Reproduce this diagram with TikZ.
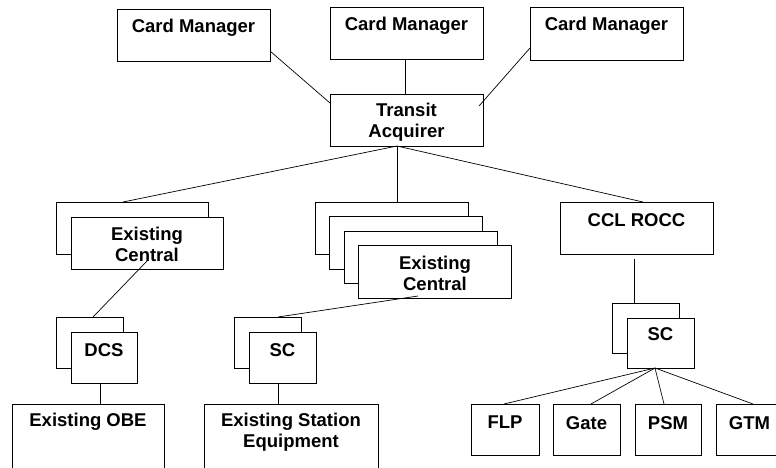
\documentclass[tikz,border=0pt]{standalone}
\usepackage{fontspec}
\setmainfont{Liberation Sans}
\usetikzlibrary{fit,calc}
\tikzset{
  box/.style={draw=black, fill=white, line width=0.8pt, inner sep=0pt, outer sep=0pt},
  lbl/.style={anchor=north, inner sep=0pt, align=center, font=\fontsize{18.5}{21}\selectfont\bfseries},
  conn/.style={draw=black, line width=0.7pt}
}
\begin{document}
\begin{tikzpicture}[x=1pt,y=-1pt]
\useasboundingbox (0,0) rectangle (776,467);
\clip (0,0) rectangle (776,467);
% top level
\node[box, fit={(117,9) (270,61)}] (cm1) {};
\node[box, fit={(330,7) (483,59)}] (cm2) {};
\node[box, fit={(530,7) (683,60)}] (cm3) {};
\node[box, fit={(330,94) (483,146)}] (ta) {};
% existing central left
\node[box, fit={(56,202) (208,254)}] (ecLb) {};
\node[box, fit={(71,217) (223,269)}] (ecLf) {};
% existing central middle stack
\node[box, fit={(315,202) (468,254.5)}] (ecM1) {};
\node[box, fit={(329.5,216.5) (482.5,269)}] (ecM2) {};
\node[box, fit={(344,231) (497,283.5)}] (ecM3) {};
\node[box, fit={(358.5,245.5) (511.5,298)}] (ecM4) {};
% ccl rocc
\node[box, fit={(560,202) (713,254)}] (ccl) {};
% DCS
\node[box, fit={(56,317) (123,368)}] (dcsb) {};
\node[box, fit={(71,332) (137,383)}] (dcsf) {};
% SC middle
\node[box, fit={(234,317) (301,368)}] (scMb) {};
\node[box, fit={(249,332) (316,383)}] (scMf) {};
% SC right
\node[box, fit={(612,303) (679,353)}] (scRb) {};
\node[box, fit={(627,318) (694,368)}] (scRf) {};
% bottom row
\node[box, fit={(12,404) (164,490)}] (obe) {};
\node[box, fit={(204,404) (378,490)}] (ese) {};
\node[box, fit={(471,404) (539,455)}] (flp) {};
\node[box, fit={(553,404) (620,455)}] (gate) {};
\node[box, fit={(635,404) (701,455)}] (psm) {};
\node[box, fit={(716,404) (783,455)}] (gtm) {};
% labels
\node[lbl] (cm1t) at ([yshift=-10pt]cm1.north) {Card Manager};
\node[lbl] (cm2t) at ([yshift=-10pt]cm2.north) {Card Manager};
\node[lbl] (cm3t) at ([yshift=-10pt]cm3.north) {Card Manager};
\node[lbl] (tat) at ([yshift=-9pt]ta.north) {Transit\\Acquirer};
\node[lbl] (ecLt) at ([yshift=-10pt]ecLf.north) {Existing\\Central};
\node[lbl] (ecMt) at ([yshift=-10pt]ecM4.north) {Existing\\Central};
\node[lbl] (cclt) at ([yshift=-11pt]ccl.north) {CCL ROCC};
\node[lbl] (dcst) at ([yshift=-11pt]dcsf.north) {DCS};
\node[lbl] (scMt) at ([yshift=-11pt]scMf.north) {SC};
\node[lbl] (scRt) at ([yshift=-9pt]scRf.north) {SC};
\node[lbl] (obet) at ([yshift=-9pt]obe.north) {Existing OBE};
\node[lbl] (eset) at ([yshift=-9pt]ese.north) {Existing Station\\Equipment};
\node[lbl] (flpt) at ([yshift=-12pt]flp.north) {FLP};
\node[lbl] (gatet) at ([yshift=-12pt]gate.north) {Gate};
\node[lbl] (psmt) at ([yshift=-12pt]psm.north) {PSM};
\node[lbl] (gtmt) at ([yshift=-12pt]gtm.north) {GTM};
% connectors
\coordinate (tahub) at ([xshift=-9.5pt]ta.south);
\coordinate (schub) at ([xshift=-5.5pt]scRf.south);
\draw[conn] ([yshift=-16pt]cm1.east) -- ([yshift=17pt]ta.west);
\draw[conn] ([xshift=-1.5pt]cm2.south) -- ([xshift=-1.5pt]ta.north);
\draw[conn] ([yshift=-14.5pt]cm3.west) -- ([xshift=-4pt,yshift=14pt]ta.east);
\draw[conn] (tahub) -- ([xshift=-9pt]ecLb.north);
\draw[conn] (tahub) -- (tahub |- ecM1.north);
\draw[conn] (tahub) -- ([xshift=6.5pt]ccl.north);
\draw[conn] ([yshift=8pt]ecLf.south) -- ([xshift=3.5pt]dcsb.north);
\draw[conn] ([xshift=-4pt]dcsf.south) -- ([xshift=-4pt]dcsf.south |- obe.north);
\draw[conn] ([xshift=-17pt,yshift=2pt]ecM4.south) -- ([xshift=10.5pt]scMb.north);
\draw[conn] ([xshift=-4.5pt]scMf.south) -- ([xshift=-4.5pt]scMf.south |- ese.north);
\draw[conn] ([xshift=-2.5pt,yshift=-5pt]ccl.south) -- ([xshift=-2.5pt]ccl.south |- scRb.north);
\draw[conn] (schub) -- ([xshift=-1pt]flp.north);
\draw[conn] (schub) -- ([xshift=4.5pt]gate.north);
\draw[conn] (schub) -- ([xshift=-4pt]psm.north);
\draw[conn] (schub) -- ([xshift=3.5pt]gtm.north);
\end{tikzpicture}
\end{document}
